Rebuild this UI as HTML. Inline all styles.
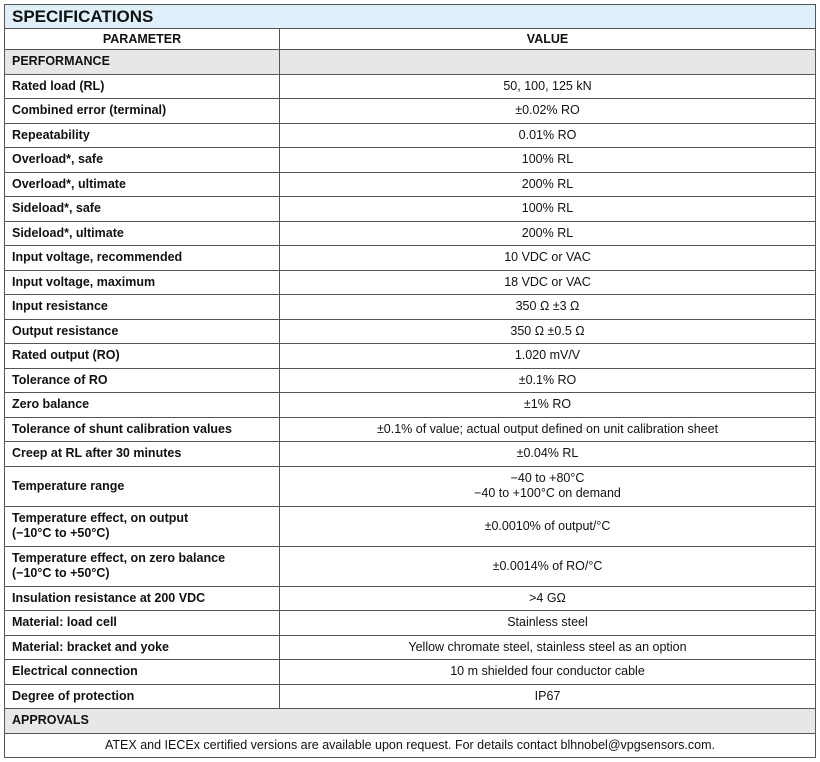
<!DOCTYPE html>
<html><head><meta charset="utf-8"><style>
body{margin:0;background:#fff;font-family:"Liberation Sans",Arial,sans-serif;color:#111;}
table{position:absolute;left:4px;top:4px;width:811px;border-collapse:collapse;table-layout:fixed;font-size:12.5px;}
td{border:1px solid #555;padding:0 7px;height:23.5px;line-height:15px;overflow:hidden;}
td:first-child{font-weight:bold;}
td:nth-child(2){text-align:center;}
tr.t td{background:#dff0fa;font-size:17px;font-weight:bold;height:23px;}
tr.h td{font-weight:bold;text-align:center;height:20px;}
tr.g td{background:#e6e7e8;font-weight:bold;}
tr.d td{height:39px;}
</style></head><body>
<table>
<colgroup><col style="width:275px"><col style="width:536px"></colgroup>
<tr class="t"><td colspan="2" style="text-align:left">SPECIFICATIONS</td></tr>
<tr class="h"><td>PARAMETER</td><td>VALUE</td></tr>
<tr class="g"><td>PERFORMANCE</td><td></td></tr>
<tr><td>Rated load (RL)</td><td>50, 100, 125 kN</td></tr>
<tr><td>Combined error (terminal)</td><td>±0.02% RO</td></tr>
<tr><td>Repeatability</td><td>0.01% RO</td></tr>
<tr><td>Overload*, safe</td><td>100% RL</td></tr>
<tr><td>Overload*, ultimate</td><td>200% RL</td></tr>
<tr><td>Sideload*, safe</td><td>100% RL</td></tr>
<tr><td>Sideload*, ultimate</td><td>200% RL</td></tr>
<tr><td>Input voltage, recommended</td><td>10 VDC or VAC</td></tr>
<tr><td>Input voltage, maximum</td><td>18 VDC or VAC</td></tr>
<tr><td>Input resistance</td><td>350 Ω ±3 Ω</td></tr>
<tr><td>Output resistance</td><td>350 Ω ±0.5 Ω</td></tr>
<tr><td>Rated output (RO)</td><td>1.020 mV/V</td></tr>
<tr><td>Tolerance of RO</td><td>±0.1% RO</td></tr>
<tr><td>Zero balance</td><td>±1% RO</td></tr>
<tr><td>Tolerance of shunt calibration values</td><td>±0.1% of value; actual output defined on unit calibration sheet</td></tr>
<tr><td>Creep at RL after 30 minutes</td><td>±0.04% RL</td></tr>
<tr class="d"><td>Temperature range</td><td>−40 to +80°C<br>−40 to +100°C on demand</td></tr>
<tr class="d"><td>Temperature effect, on output<br>(−10°C to +50°C)</td><td>±0.0010% of output/°C</td></tr>
<tr class="d"><td>Temperature effect, on zero balance<br>(−10°C to +50°C)</td><td>±0.0014% of RO/°C</td></tr>
<tr><td>Insulation resistance at 200 VDC</td><td>&gt;4 GΩ</td></tr>
<tr><td>Material: load cell</td><td>Stainless steel</td></tr>
<tr><td>Material: bracket and yoke</td><td>Yellow chromate steel, stainless steel as an option</td></tr>
<tr><td>Electrical connection</td><td>10 m shielded four conductor cable</td></tr>
<tr><td>Degree of protection</td><td>IP67</td></tr>
<tr class="g"><td colspan="2" style="text-align:left">APPROVALS</td></tr>
<tr><td colspan="2" style="font-weight:normal;text-align:center">ATEX and IECEx certified versions are available upon request. For details contact blhnobel@vpgsensors.com.</td></tr>
</table>
</body></html>
